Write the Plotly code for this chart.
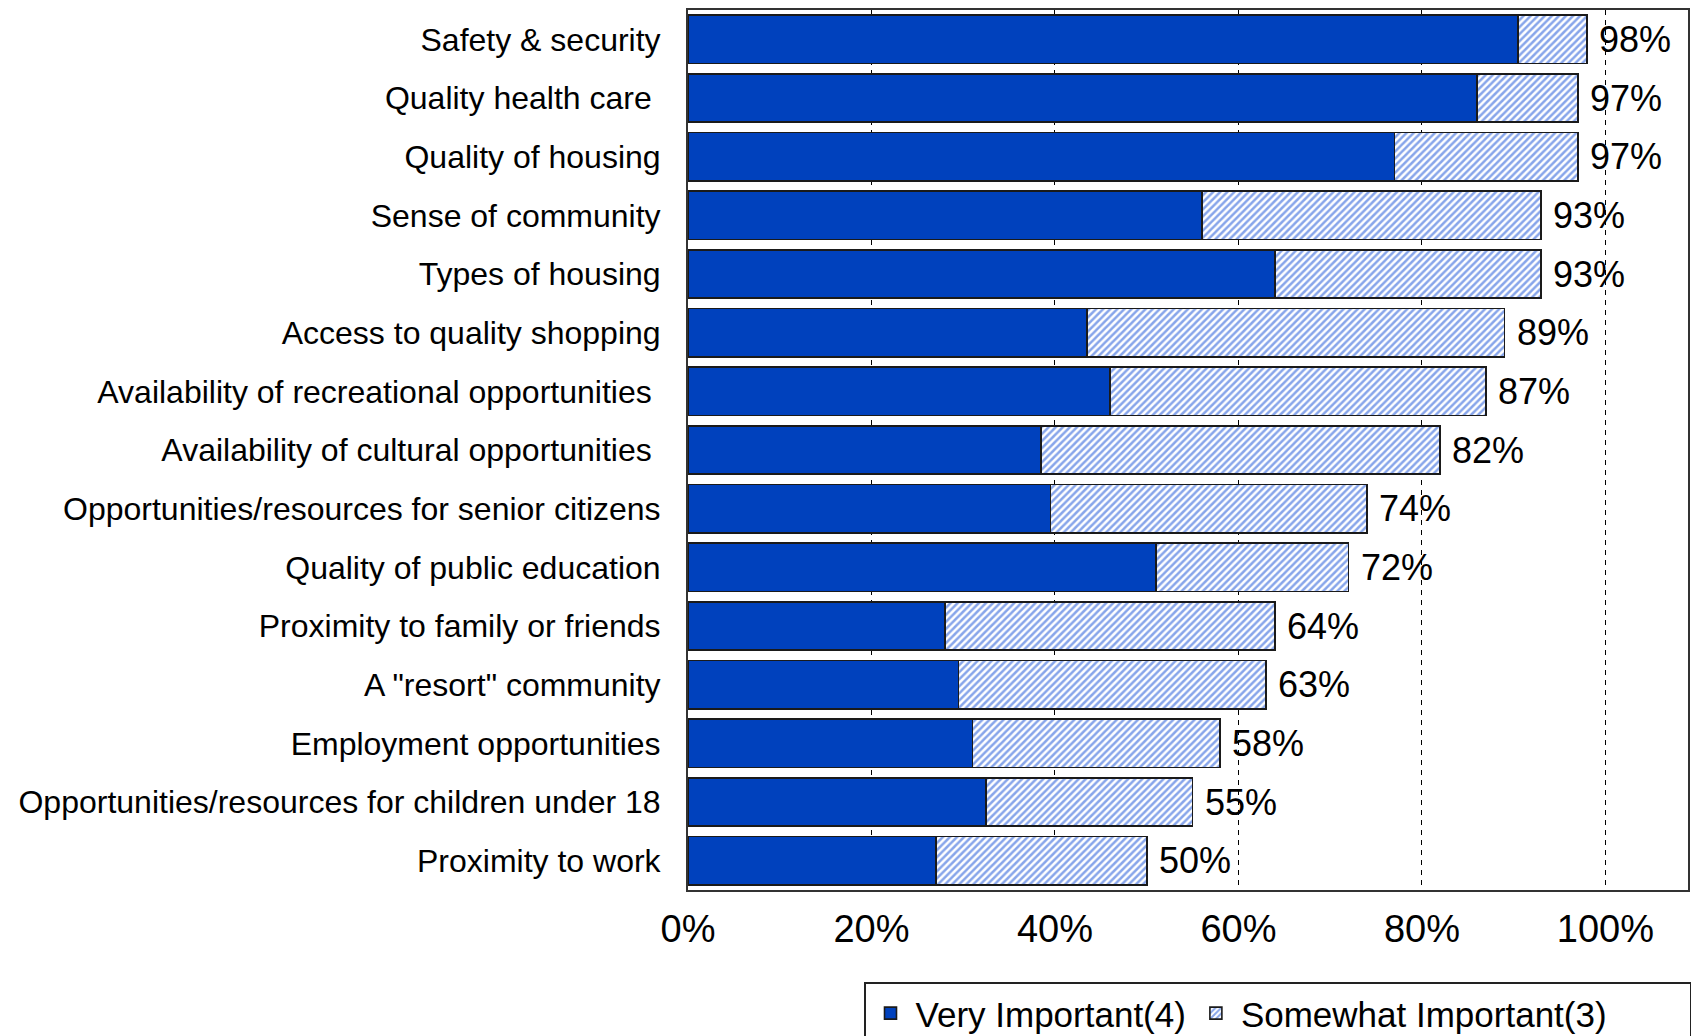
import plotly.graph_objects as go

# Survey items, top to bottom
categories = [
    "Safety & security",
    "Quality health care ",
    "Quality of housing",
    "Sense of community",
    "Types of housing",
    "Access to quality shopping",
    "Availability of recreational opportunities ",
    "Availability of cultural opportunities ",
    "Opportunities/resources for senior citizens",
    "Quality of public education",
    "Proximity to family or friends",
    "A \"resort\" community",
    "Employment opportunities",
    "Opportunities/resources for children under 18",
    "Proximity to work",
]

# Share of respondents (%) per rating
very_important = [90.5, 86, 77, 56, 64, 43.5, 46, 38.5, 39.5, 51, 28, 29.5, 31, 32.5, 27]
total_important = [98, 97, 97, 93, 93, 89, 87, 82, 74, 72, 64, 63, 58, 55, 50]
somewhat_important = [t - v for t, v in zip(total_important, very_important)]

tick_values = [0, 20, 40, 60, 80, 100]
tick_labels = ["0%", "20%", "40%", "60%", "80%", "100%"]

FONT = "Liberation Sans, Arial, sans-serif"
DARK_BLUE = "#0041BD"
OUTLINE = "#1a1a1a"
PAD = "\u00a0" * 8

fig = go.Figure()
fig.add_trace(go.Bar(
    y=categories, x=very_important, orientation="h",
    name="Very Important(4)",
    marker=dict(color=DARK_BLUE, line=dict(color=OUTLINE, width=1.6)),
    hoverinfo="skip",
))
fig.add_trace(go.Bar(
    y=categories, x=somewhat_important, orientation="h",
    name="Somewhat Important(3)" + PAD,
    marker=dict(
        color="white",
        line=dict(color=OUTLINE, width=1.6),
        pattern=dict(shape="/", fgcolor="#0F4BD6", bgcolor="white",
                     size=5, solidity=0.5),
    ),
    hoverinfo="skip",
))

# Total labels just past the end of each stacked bar
for cat, tot in zip(categories, total_important):
    fig.add_annotation(
        x=tot, y=cat, xref="x", yref="y",
        text=f"{tot}%", showarrow=False,
        xanchor="left", yanchor="middle", xshift=10,
        font=dict(family=FONT, size=36, color="black"),
    )

fig.update_layout(
    width=1696, height=1036,
    margin=dict(l=688, r=8, t=10, b=146, autoexpand=False),
    barmode="stack", bargap=0.18,
    plot_bgcolor="white", paper_bgcolor="white",
    font=dict(family=FONT, color="black"),
    showlegend=True,
    legend=dict(
        orientation="h",
        x=1.003, xanchor="right",
        y=-0.105, yanchor="top",
        bgcolor="white", bordercolor="#222", borderwidth=1.5,
        font=dict(family=FONT, size=35, color="black"),
        traceorder="normal",
        itemwidth=40,
    ),
)

fig.update_xaxes(
    range=[0, 109],
    tickvals=tick_values, ticktext=tick_labels,
    tickfont=dict(family=FONT, size=38, color="black"),
    showgrid=True, gridcolor="black", griddash="5px,5px", gridwidth=1.3,
    zeroline=False,
    showline=True, linecolor="#333", linewidth=2, mirror=True,
    ticks="", ticklabelstandoff=4,
    fixedrange=True,
)
fig.update_yaxes(
    autorange="reversed",
    tickfont=dict(family=FONT, size=32, color="black"),
    showgrid=False,
    showline=True, linecolor="#333", linewidth=2, mirror=True,
    ticks="", ticklabelstandoff=19,
    fixedrange=True,
)

fig.write_html("out.html")
